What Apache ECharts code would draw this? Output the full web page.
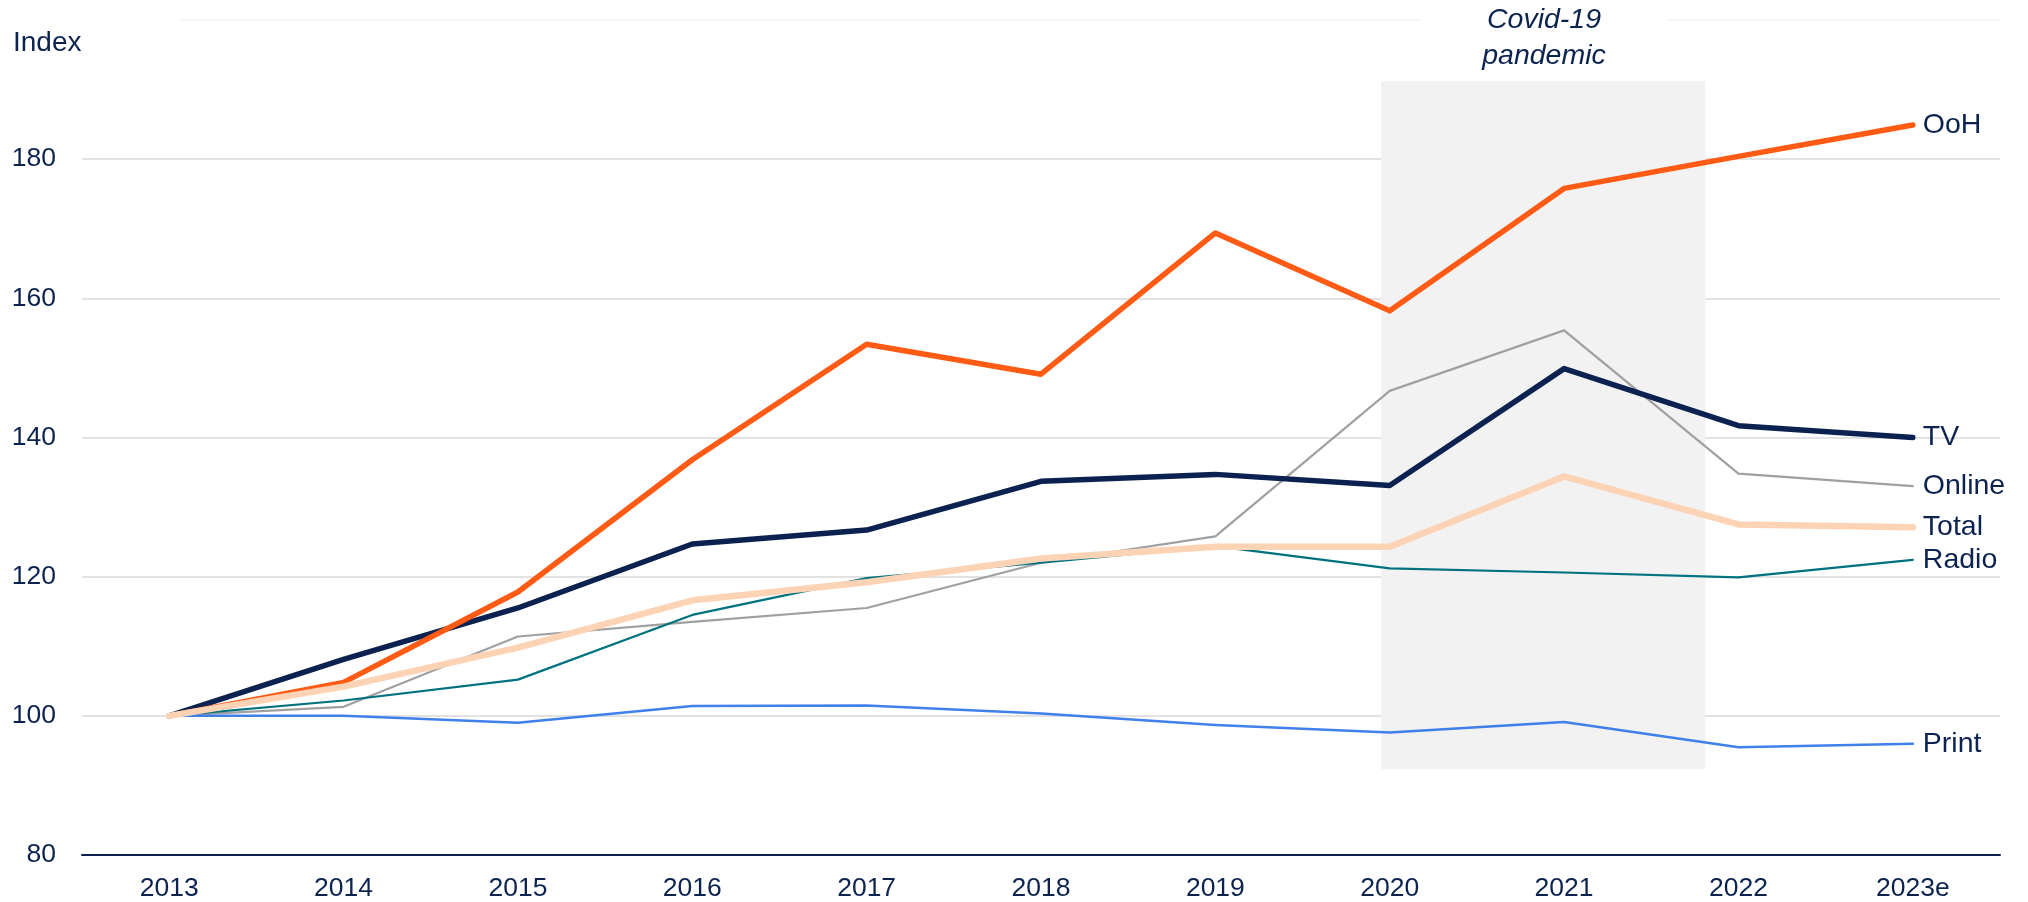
<!DOCTYPE html>
<html>
<head>
<meta charset="utf-8">
<script src="https://cdn.jsdelivr.net/npm/echarts@6/dist/echarts.min.js"></script>
<style>
  html, body { margin: 0; padding: 0; background: #fff; }
  #chart { width: 2028px; height: 902px; }
</style>
</head>
<body>
<div id="chart"></div>
<script>
// categories + series (index, 2013 = 100)
const years = ['2013', '2014', '2015', '2016', '2017', '2018', '2019', '2020', '2021', '2022', '2023e']
const ooh = [100, 104.8, 117.8, 136.8, 153.4, 149.1, 169.4, 158.2, 175.8, 180.4, 184.9]
const tv = [100, 108.1, 115.5, 124.7, 126.7, 133.7, 134.7, 133.1, 149.9, 141.7, 140.0]
const online = [100, 101.3, 111.4, 113.5, 115.5, 122.0, 125.8, 146.7, 155.4, 134.8, 133.0]
const total = [100, 104.2, 109.8, 116.6, 119.2, 122.6, 124.3, 124.3, 134.4, 127.5, 127.1]
const radio = [100, 102.2, 105.2, 114.5, 119.8, 122.0, 124.4, 121.2, 120.6, 119.9, 122.4]
const print = [100, 100.0, 99.0, 101.4, 101.5, 100.35, 98.7, 97.6, 99.1, 95.5, 96.0]

// covid band, in category-index / index units
const covidX = [6.95, 8.81]
const covidY = [92.35, 191.2]

const navy = '#0c2350'
const font = 'Liberation Sans, Arial, sans-serif'

const myChart = echarts.init(document.getElementById('chart'))

// 一条线的配置
function line(name, data, color, width) {
    return {
        name: name,
        type: 'line',
        data: data,
        showSymbol: false,
        lineStyle: { color: color, width: width, cap: 'round', join: 'round' },
        itemStyle: { color: color },
        endLabel: {
            show: true,
            formatter: '{a}',
            color: navy,
            fontSize: 28.5,
            fontFamily: font,
            distance: 10,
        },
    }
}

myChart.setOption({
    animation: false,
    title: {
        text: 'Index',
        left: 13,
        top: 17,
        padding: [12, 100, 10, 0],
        backgroundColor: '#fff',
        textStyle: { color: navy, fontSize: 28, fontWeight: 'normal', fontFamily: font },
    },
    graphic: [
        {
            type: 'text',
            x: 1544,
            y: 0,
            z: 10,
            style: {
                text: 'Covid-19\npandemic',
                align: 'center',
                verticalAlign: 'top',
                fill: navy,
                font: 'italic 28.5px ' + font,
                lineHeight: 36,
                backgroundColor: '#fff',
                padding: [2, 62, 7, 62],
            },
        },
    ],
    grid: { left: 82, right: 28, top: 20, bottom: 46 },
    xAxis: [
        {
            type: 'category',
            data: years,
            boundaryGap: true,
            axisLine: { lineStyle: { color: navy, width: 2 } },
            axisTick: { show: false },
            axisLabel: { color: navy, fontSize: 26.5, fontFamily: font, margin: 20 },
        },
        {
            type: 'value',
            min: -0.5,
            max: 10.5,
            show: false,
        },
    ],
    yAxis: {
        type: 'value',
        min: 80,
        max: 200,
        interval: 20,
        axisLine: { show: false },
        axisTick: { show: false },
        axisLabel: { color: navy, fontSize: 26.5, fontFamily: font, margin: 26, showMaxLabel: false },
        splitLine: {
            lineStyle: {
                color: ['#d9d9d9', '#d9d9d9', '#d9d9d9', '#d9d9d9', '#d9d9d9', '#d9d9d9', '#f0f0f0'],
                width: 1.5,
            },
        },
    },
    series: [
        {
            type: 'line',
            xAxisIndex: 1,
            data: [],
            z: -1,
            silent: true,
            markArea: {
                silent: true,
                itemStyle: { color: '#f2f2f2' },
                data: [[{ xAxis: covidX[0], yAxis: covidY[0] }, { xAxis: covidX[1], yAxis: covidY[1] }]],
            },
        },
        line('Online', online, '#a0a0a0', 2.2),
        line('Radio', radio, '#00727f', 2.2),
        line('Print', print, '#3f80ea', 2.5),
        line('TV', tv, '#0b2150', 5.5),
        line('OoH', ooh, '#ff5b14', 5.5),
        line('Total', total, '#fdd3b5', 6.5),
    ],
})
</script>
</body>
</html>
